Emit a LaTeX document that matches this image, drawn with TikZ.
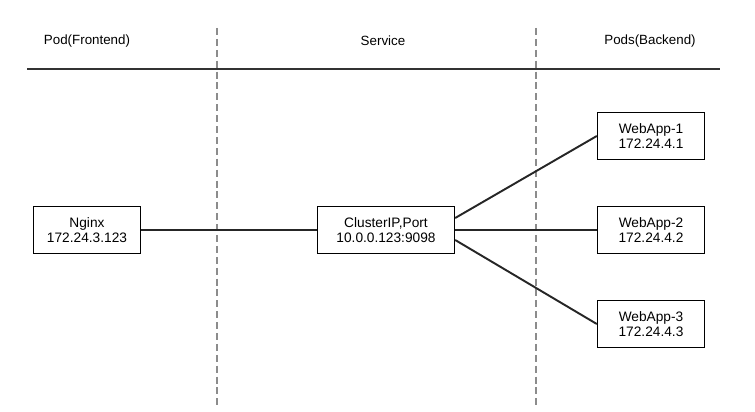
\documentclass[tikz,border=0pt]{standalone}
\usepackage{fontspec}
\setmainfont{Liberation Sans}
\usepackage{tikz}
\usetikzlibrary{positioning}

\begin{document}
\begin{tikzpicture}[
  x=0.02cm, y=-0.02cm,
  podbox/.style={draw, line width=0.8pt, minimum width=2.14cm, minimum height=0.94cm, fill=white, align=center, inner sep=1pt, font=\fontsize{7.8}{8.6}\selectfont},
  svcbox/.style={podbox, minimum width=2.74cm},
  header/.style={font=\fontsize{7.6}{8.4}\selectfont},
  divider/.style={draw=gray!90, line width=0.7pt, dash pattern=on 4pt off 2.2pt},
  link/.style={draw=black!85, line width=1.1pt}
]
\useasboundingbox (0,0) rectangle (755,412);

% column headers
\node[header] (hfront) at (87,41) {Pod(Frontend)};
\node[header] (hsvc) at (383,41) {Service};
\node[header] (hback) at (650,41) {Pods(Backend)};
\draw[line width=1.4pt, black!80] (27,69) -- (720,69);

% dividers
\coordinate (d1top) at (217,28);
\coordinate (d1bot) at (217,406);
\coordinate (d2top) at (536,28);
\coordinate (d2bot) at (536,406);
\draw[divider] (d1top) -- (d1bot);
\draw[divider] (d2top) -- (d2bot);

% nodes
\node[podbox] (nginx) at (87,230) {Nginx\\172.24.3.123};
\node[svcbox] (svc) at (386,230) {ClusterIP,Port\\10.0.0.123:9098};
\node[podbox] (web1) at (651,136) {WebApp-1\\ 172.24.4.1};
\node[podbox] (web2) at (651,230) {WebApp-2\\ 172.24.4.2};
\node[podbox] (web3) at (651,324) {WebApp-3\\ 172.24.4.3};

% connections
\draw[link] (nginx.east) -- (svc.west);
\draw[link] ([yshift=0.24cm]svc.east) -- (web1.west);
\draw[link] (svc.east) -- (web2.west);
\draw[link] ([yshift=-0.2cm]svc.east) -- (web3.west);
\end{tikzpicture}
\end{document}
